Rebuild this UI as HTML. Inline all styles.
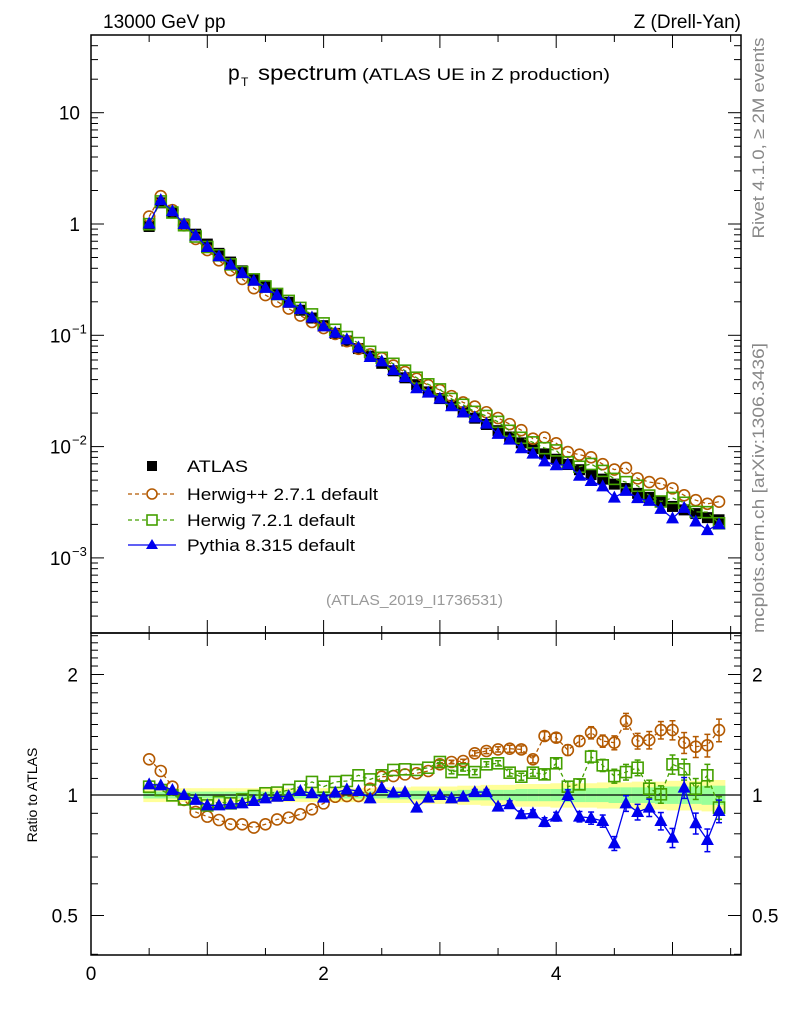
<!DOCTYPE html>
<html><head><meta charset="utf-8"><style>
body{margin:0;background:#fff;}
svg{display:block;font-family:"Liberation Sans",Arial,sans-serif;}
</style></head><body>
<svg id="c" width="786" height="1024" viewBox="0 0 786 1024"></svg>
<script>
const xValues=[0.5,0.6,0.7,0.8,0.9,1.0,1.1,1.2,1.3,1.4,1.5,1.6,1.7,1.8,1.9,2.0,2.1,2.2,2.3,2.4,2.5,2.6,2.7,2.8,2.9,3.0,3.1,3.2,3.3,3.4,3.5,3.6,3.7,3.8,3.9,4.0,4.1,4.2,4.3,4.4,4.5,4.6,4.7,4.8,4.9,5.0,5.1,5.2,5.3,5.4];
const atlasValues=[0.95,1.55,1.27,1.0,0.81,0.66,0.545,0.455,0.38,0.32,0.272,0.232,0.198,0.168,0.143,0.122,0.104,0.089,0.076,0.065,0.056,0.048,0.0415,0.036,0.031,0.027,0.0235,0.0205,0.018,0.0158,0.0139,0.0122,0.0108,0.0096,0.0086,0.0077,0.0069,0.0062,0.0056,0.0051,0.0046,0.0042,0.0038,0.0035,0.0032,0.0029,0.0027,0.0025,0.0023,0.0022];
const herwigppRatio=[1.228,1.148,1.049,0.972,0.907,0.883,0.866,0.845,0.845,0.829,0.845,0.869,0.878,0.895,0.921,0.953,0.990,0.994,0.994,1.037,1.111,1.115,1.126,1.133,1.148,1.193,1.209,1.216,1.271,1.288,1.300,1.305,1.300,1.228,1.404,1.391,1.295,1.364,1.431,1.364,1.351,1.530,1.364,1.372,1.453,1.453,1.351,1.320,1.331,1.453];
const herwig7Ratio=[1.049,1.029,0.998,0.975,0.953,0.942,0.960,0.953,0.975,0.994,1.010,1.014,1.029,1.049,1.078,1.049,1.078,1.084,1.120,1.094,1.120,1.155,1.159,1.155,1.170,1.209,1.141,1.159,1.141,1.193,1.200,1.137,1.111,1.137,1.126,1.200,1.049,1.063,1.247,1.186,1.115,1.141,1.170,1.037,1.004,1.193,1.159,1.037,1.120,0.930];
const pythiaRatio=[1.063,1.057,1.029,1.0,0.972,0.942,0.942,0.948,0.953,0.966,0.981,0.990,0.994,1.023,1.010,0.985,1.014,1.033,1.023,0.981,1.041,1.014,1.017,0.930,0.985,1.0,0.981,0.990,1.017,1.017,0.935,0.948,0.895,0.900,0.856,0.883,1.0,0.883,0.876,0.861,0.757,0.953,0.907,0.930,0.861,0.782,1.043,0.850,0.772,0.912];
const modelRelErr=[0,0,0,0,0,0,0,0,0,0,0,0,0,0,0,0,0,0,0,0,0,0,0,0,0,0.01,0.01,0.01,0.015,0.015,0.015,0.02,0.02,0.02,0.025,0.025,0.03,0.03,0.035,0.035,0.04,0.045,0.045,0.05,0.05,0.055,0.06,0.06,0.065,0.065];
const statBand=[0.02,0.02,0.02,0.02,0.02,0.02,0.02,0.02,0.02,0.02,0.02,0.02,0.02,0.02,0.02,0.02,0.02,0.02,0.02,0.02,0.02,0.025,0.025,0.025,0.025,0.025,0.025,0.03,0.03,0.03,0.03,0.03,0.035,0.035,0.035,0.035,0.04,0.04,0.04,0.04,0.045,0.045,0.045,0.045,0.05,0.05,0.05,0.05,0.055,0.055];
const totBand=[0.04,0.04,0.04,0.04,0.04,0.04,0.04,0.04,0.04,0.04,0.04,0.04,0.04,0.04,0.04,0.04,0.04,0.04,0.04,0.04,0.045,0.045,0.045,0.05,0.05,0.05,0.05,0.055,0.055,0.06,0.06,0.06,0.065,0.065,0.065,0.07,0.07,0.07,0.07,0.075,0.075,0.075,0.08,0.08,0.08,0.085,0.085,0.085,0.09,0.09];
const mainTickLabels=["10","1","10","10","10"];
const ratioTickLabels=["2","1","0.5"];
const xTickLabels=["0","2","4"];

const NS="http://www.w3.org/2000/svg";
const svg=document.getElementById('c');
const L=91,R=741,T=35,MB=633,RB=955;
const X=v=>L+v*116.3;
const Y=v=>224-Math.log10(v)*111.3;
const YR=r=>795-Math.log2(r)*120.5;
function el(tag,attrs,parent){const e=document.createElementNS(NS,tag);for(const k in attrs)e.setAttribute(k,attrs[k]);(parent||svg).appendChild(e);return e;}
function txt(x,y,s,size,anchor,fill,parent,len){const a={x:x,y:y,'font-size':size,'text-anchor':anchor||'start',fill:fill||'#000'};if(len){a.textLength=len;a.lengthAdjust='spacingAndGlyphs';}const t=el('text',a,parent);t.textContent=s;return t;}

const defs=el('defs',{});
const cp1=el('clipPath',{id:'cm'},defs);el('rect',{x:L,y:T,width:R-L,height:MB-T},cp1);
const cp2=el('clipPath',{id:'cr'},defs);el('rect',{x:L,y:MB,width:R-L,height:RB-MB},cp2);

const bands=el('g',{'clip-path':'url(#cr)'});


xValues.forEach((x,i)=>{
  const x0=X(x-0.05),w=116.3*0.1;
  const y=el('rect',{x:x0,y:YR(1+totBand[i]),width:w+0.5,height:YR(1-totBand[i])-YR(1+totBand[i]),fill:'#ffff99'},bands);
  
  
  const g=el('rect',{x:x0,y:YR(1+statBand[i]),width:w+0.5,height:YR(1-statBand[i])-YR(1+statBand[i]),fill:'#99ff99'},bands);
  
  
});
el('line',{x1:L,x2:R,y1:YR(1),y2:YR(1),stroke:'#000','stroke-width':1.2});

const f1=el('rect',{x:L,y:T,width:R-L,height:MB-T,fill:'none',stroke:'#000','stroke-width':1.5});

const f2=el('rect',{x:L,y:MB,width:R-L,height:RB-MB,fill:'none',stroke:'#000','stroke-width':1.5});


const ax=el('g',{stroke:'#000','stroke-width':1});

for(let v=0;v<=5.5;v+=0.5){
  const maj=Math.abs(v-Math.round(v))<1e-6, len=maj?13:7, x=X(v);
  [[MB,-1],[T,1],[RB,-1],[MB,1]].forEach(([y0,d])=>el('line',{x1:x,x2:x,y1:y0,y2:y0+d*len},ax));
}
xTickLabels.forEach((s,i)=>{const t=txt(X(i*2),980,s,19,'middle');});

const ay=el('g',{stroke:'#000','stroke-width':1});

for(let e=-4;e<=1;e++){for(let m=1;m<10;m++){const v=m*Math.pow(10,e);const y=Y(v);if(y<T||y>MB)continue;const len=m==1?13:7;
 el('line',{x1:L,x2:L+len,y1:y,y2:y},ay);el('line',{x1:R,x2:R-len,y1:y,y2:y},ay);}}
const exps=[1,0,-1,-2,-3];
exps.forEach((e,i)=>{
  const y=Y(Math.pow(10,e))+7;
  const t=txt(e<0?71:80,y,mainTickLabels[i],19,'end');
  
  if(e<0){const s=txt(72,y-9,String(e).replace('-','−'),13,'start');}
});
for(let r=0.3;r<=2.6;r+=0.1){const y=YR(r);if(y<MB||y>RB)continue;const maj=[0.5,1,2].some(q=>Math.abs(q-r)<1e-6);const len=maj?13:7;
 el('line',{x1:L,x2:L+len,y1:y,y2:y},ay);el('line',{x1:R,x2:R-len,y1:y,y2:y},ay);}
[2,1,0.5].forEach((r,i)=>{const y=YR(r)+7;
 const a=txt(78,y,ratioTickLabels[i],19,'end');
 const b=txt(752,y,ratioTickLabels[i],19,'start');});

const series=[
 {name:'herwigpp',ratio:herwigppRatio,color:'#b35900',dash:'4,3',marker:'circle'},
 {name:'herwig7',ratio:herwig7Ratio,color:'#44a000',dash:'4,3',marker:'square'},
 {name:'pythia',ratio:pythiaRatio,color:'#0000ee',dash:'',marker:'tri'}];
function marker(g,m,x,y,c){
  if(m=='circle')return el('circle',{cx:x,cy:y,r:5.5,fill:'none',stroke:c,'stroke-width':1.6},g);
  if(m=='square')return el('rect',{x:x-5.5,y:y-5.5,width:11,height:11,fill:'none',stroke:c,'stroke-width':1.6},g);
  if(m=='tri')return el('polygon',{points:`${x},${y-7} ${x-6.5},${y+5} ${x+6.5},${y+5}`,fill:c},g);
  return el('rect',{x:x-5.5,y:y-5.5,width:11,height:11,fill:c},g);
}
const ga=el('g',{'clip-path':'url(#cm)'});
xValues.forEach((x,i)=>{const m=marker(ga,'sq',X(x),Y(atlasValues[i]),'#000');});
series.forEach(s=>{
  const gm=el('g',{'clip-path':'url(#cm)'});
  const gr=el('g',{'clip-path':'url(#cr)'});
  const pm=xValues.map((x,i)=>X(x)+','+Y(atlasValues[i]*s.ratio[i])).join(' ');
  const pr=xValues.map((x,i)=>X(x)+','+YR(s.ratio[i])).join(' ');
  el('polyline',{points:pm,fill:'none',stroke:s.color,'stroke-width':1.3,'stroke-dasharray':s.dash},gm);
  el('polyline',{points:pr,fill:'none',stroke:s.color,'stroke-width':1.3,'stroke-dasharray':s.dash},gr);
  xValues.forEach((x,i)=>{
    const e=modelRelErr[i];
    if(e>0){const xx=X(x);el('line',{x1:xx,x2:xx,y1:YR(s.ratio[i]*(1+e)),y2:YR(s.ratio[i]*(1-e)),stroke:s.color,'stroke-width':1.5},gr);
      [1+e,1-e].forEach(f=>el('line',{x1:xx-3,x2:xx+3,y1:YR(s.ratio[i]*f),y2:YR(s.ratio[i]*f),stroke:s.color,'stroke-width':1.5},gr));}
    const a=marker(gm,s.marker,X(x),Y(atlasValues[i]*s.ratio[i]),s.color);
    const b=marker(gr,s.marker,X(x),YR(s.ratio[i]),s.color);
  });
});

const lg=el('g',{});
const leg=[['ATLAS','#000','','sq',466,61],['Herwig++ 2.7.1 default','#b35900','4,3','circle',494,191],['Herwig 7.2.1 default','#44a000','4,3','square',520,168],['Pythia 8.315 default','#0000ee','','tri',545,168]];
leg.forEach(([n,c,d,m,y,len])=>{
  const g=el('g',{},lg);
  if(m!='sq')el('line',{x1:128,x2:176,y1:y,y2:y,stroke:c,'stroke-width':1.3,'stroke-dasharray':d},g);
  if(m=='circle'){el('circle',{cx:152,cy:y,r:5,fill:'#fff',stroke:c,'stroke-width':1.6},g);}
  else if(m=='square'){el('rect',{x:147,y:y-5,width:10,height:10,fill:'#fff',stroke:c,'stroke-width':1.6},g);}
  else if(m=='tri'){el('polygon',{points:`152,${y-6} 146,${y+4} 158,${y+4}`,fill:c},g);}
  else el('rect',{x:147,y:y-5,width:10,height:10,fill:c},g);
  txt(187,y+6,n,17,'start','#000',g,len);
});

let t=txt(103,28,'13000 GeV pp',19,'start');
t=txt(741,28,'Z (Drell-Yan)',19,'end');
const tg=el('g',{});
txt(228,80,'p',21,'start','#000',tg);txt(241,86,'T',12,'start','#000',tg);txt(258,80,'spectrum',21,'start','#000',tg,99);txt(362,80,'(ATLAS UE in Z production)',17,'start','#000',tg,248);
t=txt(326,605,'(ATLAS_2019_I1736531)',15,'start','#999',null,177);
t=txt(0,0,'Rivet 4.1.0, ≥ 2M events',17,'middle','#888',null,201);t.setAttribute('transform','translate(764,138) rotate(-90)');
t=txt(0,0,'mcplots.cern.ch [arXiv:1306.3436]',17,'middle','#888',null,290);t.setAttribute('transform','translate(764,488) rotate(-90)');
t=txt(0,0,'Ratio to ATLAS',14,'middle','#000');t.setAttribute('transform','translate(37,795) rotate(-90)');
</script>
</body></html>
